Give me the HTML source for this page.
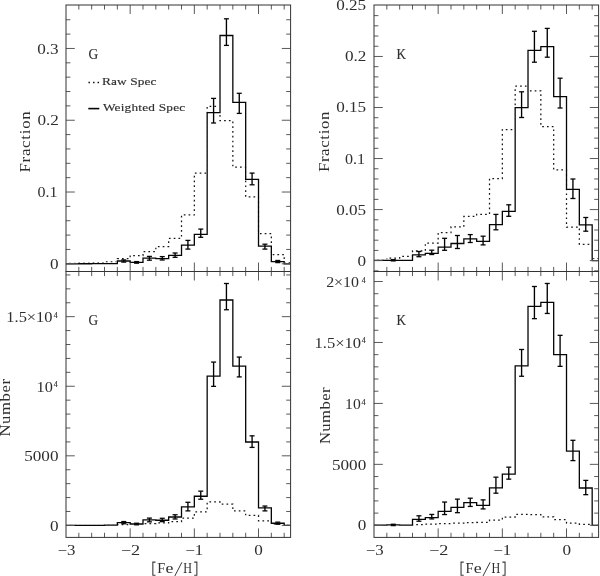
<!DOCTYPE html>
<html><head><meta charset="utf-8"><style>
html,body{margin:0;padding:0;background:#fff;}
svg{display:block;filter:grayscale(1);}
text{font-family:"Liberation Serif",serif;}
.w{stroke:#333;stroke-width:0.15px;}
</style></head><body>
<svg width="600" height="576" viewBox="0 0 600 576">
<rect width="600" height="576" fill="#fff"/>
<path d="M66,263.4H78.83V263.1H91.67V262.9H104.5V261.8H117.34V258.7H130.17V255.5H143V251.5H155.84V246.6H168.67V238.4H181.51V214.9H194.34V173.2H207.17V106.3H220.01V120.6H232.84V167.1H245.68V196.8H258.51V233.6H271.34V254.5H284.18V262.5H290.6" fill="none" stroke="#151515" stroke-width="1.25" stroke-dasharray="1.7 3.1" stroke-dashoffset="1.71"/>
<path d="M66,263.8H78.83V263.75H91.67V263.7H104.5V263.6H117.34V261H130.17V262.4H143V258.2H155.84V258.6H168.67V255.3H181.51V245.1H194.34V234.3H207.17V112.6H220.01V35.5H232.84V102.44H245.68V179.33H258.51V246.1H271.34V261.6H284.18V263.8H290.6" fill="none" stroke="#fff" stroke-width="2.0" stroke-linejoin="miter"/>
<path d="M66,263.8H78.83V263.75H91.67V263.7H104.5V263.6H117.34V261H130.17V262.4H143V258.2H155.84V258.6H168.67V255.3H181.51V245.1H194.34V234.3H207.17V112.6H220.01V35.5H232.84V102.44H245.68V179.33H258.51V246.1H271.34V261.6H284.18V263.8H290.6" fill="none" stroke="#050505" stroke-width="1.3" stroke-linejoin="miter"/>
<line x1="123.75" y1="259.9" x2="123.75" y2="262.1" stroke="#000" stroke-width="1.35"/>
<line x1="121.25" y1="259.9" x2="126.25" y2="259.9" stroke="#050505" stroke-width="1.3"/>
<line x1="121.25" y1="262.1" x2="126.25" y2="262.1" stroke="#050505" stroke-width="1.3"/>
<line x1="136.59" y1="261.6" x2="136.59" y2="263.2" stroke="#000" stroke-width="1.35"/>
<line x1="134.09" y1="261.6" x2="139.09" y2="261.6" stroke="#050505" stroke-width="1.3"/>
<line x1="134.09" y1="263.2" x2="139.09" y2="263.2" stroke="#050505" stroke-width="1.3"/>
<line x1="149.42" y1="256.4" x2="149.42" y2="260.2" stroke="#000" stroke-width="1.35"/>
<line x1="146.92" y1="256.4" x2="151.92" y2="256.4" stroke="#050505" stroke-width="1.3"/>
<line x1="146.92" y1="260.2" x2="151.92" y2="260.2" stroke="#050505" stroke-width="1.3"/>
<line x1="162.25" y1="256.6" x2="162.25" y2="260" stroke="#000" stroke-width="1.35"/>
<line x1="159.75" y1="256.6" x2="164.75" y2="256.6" stroke="#050505" stroke-width="1.3"/>
<line x1="159.75" y1="260" x2="164.75" y2="260" stroke="#050505" stroke-width="1.3"/>
<line x1="175.09" y1="253" x2="175.09" y2="257.3" stroke="#000" stroke-width="1.35"/>
<line x1="172.59" y1="253" x2="177.59" y2="253" stroke="#050505" stroke-width="1.3"/>
<line x1="172.59" y1="257.3" x2="177.59" y2="257.3" stroke="#050505" stroke-width="1.3"/>
<line x1="187.92" y1="240.4" x2="187.92" y2="249.1" stroke="#000" stroke-width="1.35"/>
<line x1="185.42" y1="240.4" x2="190.42" y2="240.4" stroke="#050505" stroke-width="1.3"/>
<line x1="185.42" y1="249.1" x2="190.42" y2="249.1" stroke="#050505" stroke-width="1.3"/>
<line x1="200.76" y1="229.1" x2="200.76" y2="237.3" stroke="#000" stroke-width="1.35"/>
<line x1="198.26" y1="229.1" x2="203.26" y2="229.1" stroke="#050505" stroke-width="1.3"/>
<line x1="198.26" y1="237.3" x2="203.26" y2="237.3" stroke="#050505" stroke-width="1.3"/>
<line x1="213.59" y1="98.4" x2="213.59" y2="123" stroke="#000" stroke-width="1.35"/>
<line x1="211.09" y1="98.4" x2="216.09" y2="98.4" stroke="#050505" stroke-width="1.3"/>
<line x1="211.09" y1="123" x2="216.09" y2="123" stroke="#050505" stroke-width="1.3"/>
<line x1="226.43" y1="18.8" x2="226.43" y2="45.4" stroke="#000" stroke-width="1.35"/>
<line x1="223.93" y1="18.8" x2="228.93" y2="18.8" stroke="#050505" stroke-width="1.3"/>
<line x1="223.93" y1="45.4" x2="228.93" y2="45.4" stroke="#050505" stroke-width="1.3"/>
<line x1="239.26" y1="93.3" x2="239.26" y2="113.4" stroke="#000" stroke-width="1.35"/>
<line x1="236.76" y1="93.3" x2="241.76" y2="93.3" stroke="#050505" stroke-width="1.3"/>
<line x1="236.76" y1="113.4" x2="241.76" y2="113.4" stroke="#050505" stroke-width="1.3"/>
<line x1="252.09" y1="173.1" x2="252.09" y2="184.8" stroke="#000" stroke-width="1.35"/>
<line x1="249.59" y1="173.1" x2="254.59" y2="173.1" stroke="#050505" stroke-width="1.3"/>
<line x1="249.59" y1="184.8" x2="254.59" y2="184.8" stroke="#050505" stroke-width="1.3"/>
<line x1="264.93" y1="244.2" x2="264.93" y2="249.1" stroke="#000" stroke-width="1.35"/>
<line x1="262.43" y1="244.2" x2="267.43" y2="244.2" stroke="#050505" stroke-width="1.3"/>
<line x1="262.43" y1="249.1" x2="267.43" y2="249.1" stroke="#050505" stroke-width="1.3"/>
<line x1="277.76" y1="260.5" x2="277.76" y2="262.6" stroke="#000" stroke-width="1.35"/>
<line x1="275.26" y1="260.5" x2="280.26" y2="260.5" stroke="#050505" stroke-width="1.3"/>
<line x1="275.26" y1="262.6" x2="280.26" y2="262.6" stroke="#050505" stroke-width="1.3"/>
<path d="M374,260H386.83V258H399.67V256.4H412.5V250.8H425.34V243H438.17V232.6H451V226.8H463.84V216.4H476.67V214.4H489.51V178.5H502.34V129.5H515.17V86.2H528.01V90.8H540.84V126.5H553.68V169.8H566.51V227.1H579.34V244.3H592.18V258.5H598.6" fill="none" stroke="#151515" stroke-width="1.25" stroke-dasharray="1.7 3.1" stroke-dashoffset="1.71"/>
<path d="M374,260.45H386.83V260.3H399.67V260.45H412.5V254.9H425.34V253.3H438.17V247.2H451V243.5H463.84V238.8H476.67V241.4H489.51V224.7H502.34V211.4H515.17V107.6H528.01V50.4H540.84V46.56H553.68V96.7H566.51V189.3H579.34V224.8H592.18V260.62H598.6" fill="none" stroke="#fff" stroke-width="2.0" stroke-linejoin="miter"/>
<path d="M374,260.45H386.83V260.3H399.67V260.45H412.5V254.9H425.34V253.3H438.17V247.2H451V243.5H463.84V238.8H476.67V241.4H489.51V224.7H502.34V211.4H515.17V107.6H528.01V50.4H540.84V46.56H553.68V96.7H566.51V189.3H579.34V224.8H592.18V260.62H598.6" fill="none" stroke="#050505" stroke-width="1.3" stroke-linejoin="miter"/>
<line x1="393.25" y1="259.6" x2="393.25" y2="260.9" stroke="#000" stroke-width="1.35"/>
<line x1="390.75" y1="259.6" x2="395.75" y2="259.6" stroke="#050505" stroke-width="1.3"/>
<line x1="390.75" y1="260.9" x2="395.75" y2="260.9" stroke="#050505" stroke-width="1.3"/>
<line x1="418.92" y1="251.5" x2="418.92" y2="256.7" stroke="#000" stroke-width="1.35"/>
<line x1="416.42" y1="251.5" x2="421.42" y2="251.5" stroke="#050505" stroke-width="1.3"/>
<line x1="416.42" y1="256.7" x2="421.42" y2="256.7" stroke="#050505" stroke-width="1.3"/>
<line x1="431.75" y1="250.2" x2="431.75" y2="254.5" stroke="#000" stroke-width="1.35"/>
<line x1="429.25" y1="250.2" x2="434.25" y2="250.2" stroke="#050505" stroke-width="1.3"/>
<line x1="429.25" y1="254.5" x2="434.25" y2="254.5" stroke="#050505" stroke-width="1.3"/>
<line x1="444.59" y1="238.3" x2="444.59" y2="250.3" stroke="#000" stroke-width="1.35"/>
<line x1="442.09" y1="238.3" x2="447.09" y2="238.3" stroke="#050505" stroke-width="1.3"/>
<line x1="442.09" y1="250.3" x2="447.09" y2="250.3" stroke="#050505" stroke-width="1.3"/>
<line x1="457.42" y1="235.5" x2="457.42" y2="248.5" stroke="#000" stroke-width="1.35"/>
<line x1="454.92" y1="235.5" x2="459.92" y2="235.5" stroke="#050505" stroke-width="1.3"/>
<line x1="454.92" y1="248.5" x2="459.92" y2="248.5" stroke="#050505" stroke-width="1.3"/>
<line x1="470.25" y1="234.6" x2="470.25" y2="242.5" stroke="#000" stroke-width="1.35"/>
<line x1="467.75" y1="234.6" x2="472.75" y2="234.6" stroke="#050505" stroke-width="1.3"/>
<line x1="467.75" y1="242.5" x2="472.75" y2="242.5" stroke="#050505" stroke-width="1.3"/>
<line x1="483.09" y1="236.2" x2="483.09" y2="244.9" stroke="#000" stroke-width="1.35"/>
<line x1="480.59" y1="236.2" x2="485.59" y2="236.2" stroke="#050505" stroke-width="1.3"/>
<line x1="480.59" y1="244.9" x2="485.59" y2="244.9" stroke="#050505" stroke-width="1.3"/>
<line x1="495.92" y1="214.4" x2="495.92" y2="229.8" stroke="#000" stroke-width="1.35"/>
<line x1="493.42" y1="214.4" x2="498.42" y2="214.4" stroke="#050505" stroke-width="1.3"/>
<line x1="493.42" y1="229.8" x2="498.42" y2="229.8" stroke="#050505" stroke-width="1.3"/>
<line x1="508.76" y1="204.8" x2="508.76" y2="216.3" stroke="#000" stroke-width="1.35"/>
<line x1="506.26" y1="204.8" x2="511.26" y2="204.8" stroke="#050505" stroke-width="1.3"/>
<line x1="506.26" y1="216.3" x2="511.26" y2="216.3" stroke="#050505" stroke-width="1.3"/>
<line x1="521.59" y1="91.8" x2="521.59" y2="117.5" stroke="#000" stroke-width="1.35"/>
<line x1="519.09" y1="91.8" x2="524.09" y2="91.8" stroke="#050505" stroke-width="1.3"/>
<line x1="519.09" y1="117.5" x2="524.09" y2="117.5" stroke="#050505" stroke-width="1.3"/>
<line x1="534.42" y1="31.3" x2="534.42" y2="62.2" stroke="#000" stroke-width="1.35"/>
<line x1="531.92" y1="31.3" x2="536.92" y2="31.3" stroke="#050505" stroke-width="1.3"/>
<line x1="531.92" y1="62.2" x2="536.92" y2="62.2" stroke="#050505" stroke-width="1.3"/>
<line x1="547.26" y1="28.4" x2="547.26" y2="57.2" stroke="#000" stroke-width="1.35"/>
<line x1="544.76" y1="28.4" x2="549.76" y2="28.4" stroke="#050505" stroke-width="1.3"/>
<line x1="544.76" y1="57.2" x2="549.76" y2="57.2" stroke="#050505" stroke-width="1.3"/>
<line x1="560.09" y1="78.2" x2="560.09" y2="108" stroke="#000" stroke-width="1.35"/>
<line x1="557.59" y1="78.2" x2="562.59" y2="78.2" stroke="#050505" stroke-width="1.3"/>
<line x1="557.59" y1="108" x2="562.59" y2="108" stroke="#050505" stroke-width="1.3"/>
<line x1="572.93" y1="179" x2="572.93" y2="198.5" stroke="#000" stroke-width="1.35"/>
<line x1="570.43" y1="179" x2="575.43" y2="179" stroke="#050505" stroke-width="1.3"/>
<line x1="570.43" y1="198.5" x2="575.43" y2="198.5" stroke="#050505" stroke-width="1.3"/>
<line x1="585.76" y1="217.5" x2="585.76" y2="231.2" stroke="#000" stroke-width="1.35"/>
<line x1="583.26" y1="217.5" x2="588.26" y2="217.5" stroke="#050505" stroke-width="1.3"/>
<line x1="583.26" y1="231.2" x2="588.26" y2="231.2" stroke="#050505" stroke-width="1.3"/>
<path d="M66,525.34H78.83V525.3H91.67V525.27H104.5V525.1H117.34V524.64H130.17V524.16H143V523.57H155.84V522.84H168.67V521.62H181.51V518.11H194.34V511.9H207.17V501.93H220.01V504.06H232.84V510.99H245.68V515.42H258.51V520.9H271.34V524.01H284.18V525.21H290.6" fill="none" stroke="#151515" stroke-width="1.25" stroke-dasharray="1.7 3.1" stroke-dashoffset="1.17"/>
<path d="M66,525.4H78.83V525.35H91.67V525.3H104.5V525.2H117.34V522.64H130.17V524.02H143V519.87H155.84V520.27H168.67V517.01H181.51V506.94H194.34V496.27H207.17V376.11H220.01V299.98H232.84V366.07H245.68V441.99H258.51V507.92H271.34V523.23H284.18V525.4H290.6" fill="none" stroke="#fff" stroke-width="2.0" stroke-linejoin="miter"/>
<path d="M66,525.4H78.83V525.35H91.67V525.3H104.5V525.2H117.34V522.64H130.17V524.02H143V519.87H155.84V520.27H168.67V517.01H181.51V506.94H194.34V496.27H207.17V376.11H220.01V299.98H232.84V366.07H245.68V441.99H258.51V507.92H271.34V523.23H284.18V525.4H290.6" fill="none" stroke="#050505" stroke-width="1.3" stroke-linejoin="miter"/>
<line x1="123.75" y1="521.55" x2="123.75" y2="523.72" stroke="#000" stroke-width="1.35"/>
<line x1="121.25" y1="521.55" x2="126.25" y2="521.55" stroke="#050505" stroke-width="1.3"/>
<line x1="121.25" y1="523.72" x2="126.25" y2="523.72" stroke="#050505" stroke-width="1.3"/>
<line x1="136.59" y1="523.23" x2="136.59" y2="524.81" stroke="#000" stroke-width="1.35"/>
<line x1="134.09" y1="523.23" x2="139.09" y2="523.23" stroke="#050505" stroke-width="1.3"/>
<line x1="134.09" y1="524.81" x2="139.09" y2="524.81" stroke="#050505" stroke-width="1.3"/>
<line x1="149.42" y1="518.09" x2="149.42" y2="521.85" stroke="#000" stroke-width="1.35"/>
<line x1="146.92" y1="518.09" x2="151.92" y2="518.09" stroke="#050505" stroke-width="1.3"/>
<line x1="146.92" y1="521.85" x2="151.92" y2="521.85" stroke="#050505" stroke-width="1.3"/>
<line x1="162.25" y1="518.29" x2="162.25" y2="521.65" stroke="#000" stroke-width="1.35"/>
<line x1="159.75" y1="518.29" x2="164.75" y2="518.29" stroke="#050505" stroke-width="1.3"/>
<line x1="159.75" y1="521.65" x2="164.75" y2="521.65" stroke="#050505" stroke-width="1.3"/>
<line x1="175.09" y1="514.74" x2="175.09" y2="518.98" stroke="#000" stroke-width="1.35"/>
<line x1="172.59" y1="514.74" x2="177.59" y2="514.74" stroke="#050505" stroke-width="1.3"/>
<line x1="172.59" y1="518.98" x2="177.59" y2="518.98" stroke="#050505" stroke-width="1.3"/>
<line x1="187.92" y1="502.29" x2="187.92" y2="510.89" stroke="#000" stroke-width="1.35"/>
<line x1="185.42" y1="502.29" x2="190.42" y2="502.29" stroke="#050505" stroke-width="1.3"/>
<line x1="185.42" y1="510.89" x2="190.42" y2="510.89" stroke="#050505" stroke-width="1.3"/>
<line x1="200.76" y1="491.14" x2="200.76" y2="499.23" stroke="#000" stroke-width="1.35"/>
<line x1="198.26" y1="491.14" x2="203.26" y2="491.14" stroke="#050505" stroke-width="1.3"/>
<line x1="198.26" y1="499.23" x2="203.26" y2="499.23" stroke="#050505" stroke-width="1.3"/>
<line x1="213.59" y1="362.08" x2="213.59" y2="386.37" stroke="#000" stroke-width="1.35"/>
<line x1="211.09" y1="362.08" x2="216.09" y2="362.08" stroke="#050505" stroke-width="1.3"/>
<line x1="211.09" y1="386.37" x2="216.09" y2="386.37" stroke="#050505" stroke-width="1.3"/>
<line x1="226.43" y1="283.49" x2="226.43" y2="309.75" stroke="#000" stroke-width="1.35"/>
<line x1="223.93" y1="283.49" x2="228.93" y2="283.49" stroke="#050505" stroke-width="1.3"/>
<line x1="223.93" y1="309.75" x2="228.93" y2="309.75" stroke="#050505" stroke-width="1.3"/>
<line x1="239.26" y1="357.05" x2="239.26" y2="376.9" stroke="#000" stroke-width="1.35"/>
<line x1="236.76" y1="357.05" x2="241.76" y2="357.05" stroke="#050505" stroke-width="1.3"/>
<line x1="236.76" y1="376.9" x2="241.76" y2="376.9" stroke="#050505" stroke-width="1.3"/>
<line x1="252.09" y1="435.84" x2="252.09" y2="447.4" stroke="#000" stroke-width="1.35"/>
<line x1="249.59" y1="435.84" x2="254.59" y2="435.84" stroke="#050505" stroke-width="1.3"/>
<line x1="249.59" y1="447.4" x2="254.59" y2="447.4" stroke="#050505" stroke-width="1.3"/>
<line x1="264.93" y1="506.05" x2="264.93" y2="510.89" stroke="#000" stroke-width="1.35"/>
<line x1="262.43" y1="506.05" x2="267.43" y2="506.05" stroke="#050505" stroke-width="1.3"/>
<line x1="262.43" y1="510.89" x2="267.43" y2="510.89" stroke="#050505" stroke-width="1.3"/>
<line x1="277.76" y1="522.14" x2="277.76" y2="524.22" stroke="#000" stroke-width="1.35"/>
<line x1="275.26" y1="522.14" x2="280.26" y2="522.14" stroke="#050505" stroke-width="1.3"/>
<line x1="275.26" y1="524.22" x2="280.26" y2="524.22" stroke="#050505" stroke-width="1.3"/>
<path d="M374,525.26H386.83V525.14H399.67V525.03H412.5V524.68H425.34V524.19H438.17V523.54H451V523.18H463.84V522.52H476.67V522.4H489.51V520.14H502.34V517.07H515.17V514.35H528.01V514.64H540.84V516.88H553.68V519.6H566.51V523.19H579.34V524.28H592.18V525.17H598.6" fill="none" stroke="#151515" stroke-width="1.25" stroke-dasharray="1.7 3.1" stroke-dashoffset="0.36"/>
<path d="M374,525.12H386.83V524.97H399.67V525.12H412.5V519.34H425.34V517.68H438.17V511.32H451V507.47H463.84V502.58H476.67V505.28H489.51V487.89H502.34V474.04H515.17V365.94H528.01V306.38H540.84V302.38H553.68V354.59H566.51V451.03H579.34V488H592.18V525.3H598.6" fill="none" stroke="#fff" stroke-width="2.0" stroke-linejoin="miter"/>
<path d="M374,525.12H386.83V524.97H399.67V525.12H412.5V519.34H425.34V517.68H438.17V511.32H451V507.47H463.84V502.58H476.67V505.28H489.51V487.89H502.34V474.04H515.17V365.94H528.01V306.38H540.84V302.38H553.68V354.59H566.51V451.03H579.34V488H592.18V525.3H598.6" fill="none" stroke="#050505" stroke-width="1.3" stroke-linejoin="miter"/>
<line x1="393.25" y1="524.24" x2="393.25" y2="525.59" stroke="#000" stroke-width="1.35"/>
<line x1="390.75" y1="524.24" x2="395.75" y2="524.24" stroke="#050505" stroke-width="1.3"/>
<line x1="390.75" y1="525.59" x2="395.75" y2="525.59" stroke="#050505" stroke-width="1.3"/>
<line x1="418.92" y1="515.8" x2="418.92" y2="521.22" stroke="#000" stroke-width="1.35"/>
<line x1="416.42" y1="515.8" x2="421.42" y2="515.8" stroke="#050505" stroke-width="1.3"/>
<line x1="416.42" y1="521.22" x2="421.42" y2="521.22" stroke="#050505" stroke-width="1.3"/>
<line x1="431.75" y1="514.45" x2="431.75" y2="518.93" stroke="#000" stroke-width="1.35"/>
<line x1="429.25" y1="514.45" x2="434.25" y2="514.45" stroke="#050505" stroke-width="1.3"/>
<line x1="429.25" y1="518.93" x2="434.25" y2="518.93" stroke="#050505" stroke-width="1.3"/>
<line x1="444.59" y1="502.06" x2="444.59" y2="514.55" stroke="#000" stroke-width="1.35"/>
<line x1="442.09" y1="502.06" x2="447.09" y2="502.06" stroke="#050505" stroke-width="1.3"/>
<line x1="442.09" y1="514.55" x2="447.09" y2="514.55" stroke="#050505" stroke-width="1.3"/>
<line x1="457.42" y1="499.14" x2="457.42" y2="512.68" stroke="#000" stroke-width="1.35"/>
<line x1="454.92" y1="499.14" x2="459.92" y2="499.14" stroke="#050505" stroke-width="1.3"/>
<line x1="454.92" y1="512.68" x2="459.92" y2="512.68" stroke="#050505" stroke-width="1.3"/>
<line x1="470.25" y1="498.2" x2="470.25" y2="506.43" stroke="#000" stroke-width="1.35"/>
<line x1="467.75" y1="498.2" x2="472.75" y2="498.2" stroke="#050505" stroke-width="1.3"/>
<line x1="467.75" y1="506.43" x2="472.75" y2="506.43" stroke="#050505" stroke-width="1.3"/>
<line x1="483.09" y1="499.87" x2="483.09" y2="508.93" stroke="#000" stroke-width="1.35"/>
<line x1="480.59" y1="499.87" x2="485.59" y2="499.87" stroke="#050505" stroke-width="1.3"/>
<line x1="480.59" y1="508.93" x2="485.59" y2="508.93" stroke="#050505" stroke-width="1.3"/>
<line x1="495.92" y1="477.17" x2="495.92" y2="493.2" stroke="#000" stroke-width="1.35"/>
<line x1="493.42" y1="477.17" x2="498.42" y2="477.17" stroke="#050505" stroke-width="1.3"/>
<line x1="493.42" y1="493.2" x2="498.42" y2="493.2" stroke="#050505" stroke-width="1.3"/>
<line x1="508.76" y1="467.17" x2="508.76" y2="479.15" stroke="#000" stroke-width="1.35"/>
<line x1="506.26" y1="467.17" x2="511.26" y2="467.17" stroke="#050505" stroke-width="1.3"/>
<line x1="506.26" y1="479.15" x2="511.26" y2="479.15" stroke="#050505" stroke-width="1.3"/>
<line x1="521.59" y1="349.49" x2="521.59" y2="376.25" stroke="#000" stroke-width="1.35"/>
<line x1="519.09" y1="349.49" x2="524.09" y2="349.49" stroke="#050505" stroke-width="1.3"/>
<line x1="519.09" y1="376.25" x2="524.09" y2="376.25" stroke="#050505" stroke-width="1.3"/>
<line x1="534.42" y1="286.49" x2="534.42" y2="318.67" stroke="#000" stroke-width="1.35"/>
<line x1="531.92" y1="286.49" x2="536.92" y2="286.49" stroke="#050505" stroke-width="1.3"/>
<line x1="531.92" y1="318.67" x2="536.92" y2="318.67" stroke="#050505" stroke-width="1.3"/>
<line x1="547.26" y1="283.47" x2="547.26" y2="313.46" stroke="#000" stroke-width="1.35"/>
<line x1="544.76" y1="283.47" x2="549.76" y2="283.47" stroke="#050505" stroke-width="1.3"/>
<line x1="544.76" y1="313.46" x2="549.76" y2="313.46" stroke="#050505" stroke-width="1.3"/>
<line x1="560.09" y1="335.33" x2="560.09" y2="366.36" stroke="#000" stroke-width="1.35"/>
<line x1="557.59" y1="335.33" x2="562.59" y2="335.33" stroke="#050505" stroke-width="1.3"/>
<line x1="557.59" y1="366.36" x2="562.59" y2="366.36" stroke="#050505" stroke-width="1.3"/>
<line x1="572.93" y1="440.3" x2="572.93" y2="460.61" stroke="#000" stroke-width="1.35"/>
<line x1="570.43" y1="440.3" x2="575.43" y2="440.3" stroke="#050505" stroke-width="1.3"/>
<line x1="570.43" y1="460.61" x2="575.43" y2="460.61" stroke="#050505" stroke-width="1.3"/>
<line x1="585.76" y1="480.39" x2="585.76" y2="494.66" stroke="#000" stroke-width="1.35"/>
<line x1="583.26" y1="480.39" x2="588.26" y2="480.39" stroke="#050505" stroke-width="1.3"/>
<line x1="583.26" y1="494.66" x2="588.26" y2="494.66" stroke="#050505" stroke-width="1.3"/>
<line x1="78.83" y1="5" x2="78.83" y2="9.6" stroke="#5a5a5a" stroke-width="1.0"/>
<line x1="78.83" y1="271.5" x2="78.83" y2="266.9" stroke="#5a5a5a" stroke-width="1.0"/>
<line x1="91.67" y1="5" x2="91.67" y2="9.6" stroke="#5a5a5a" stroke-width="1.0"/>
<line x1="91.67" y1="271.5" x2="91.67" y2="266.9" stroke="#5a5a5a" stroke-width="1.0"/>
<line x1="104.5" y1="5" x2="104.5" y2="9.6" stroke="#5a5a5a" stroke-width="1.0"/>
<line x1="104.5" y1="271.5" x2="104.5" y2="266.9" stroke="#5a5a5a" stroke-width="1.0"/>
<line x1="117.34" y1="5" x2="117.34" y2="9.6" stroke="#5a5a5a" stroke-width="1.0"/>
<line x1="117.34" y1="271.5" x2="117.34" y2="266.9" stroke="#5a5a5a" stroke-width="1.0"/>
<line x1="130.17" y1="5" x2="130.17" y2="14" stroke="#5a5a5a" stroke-width="1.0"/>
<line x1="130.17" y1="271.5" x2="130.17" y2="262.5" stroke="#5a5a5a" stroke-width="1.0"/>
<line x1="143" y1="5" x2="143" y2="9.6" stroke="#5a5a5a" stroke-width="1.0"/>
<line x1="143" y1="271.5" x2="143" y2="266.9" stroke="#5a5a5a" stroke-width="1.0"/>
<line x1="155.84" y1="5" x2="155.84" y2="9.6" stroke="#5a5a5a" stroke-width="1.0"/>
<line x1="155.84" y1="271.5" x2="155.84" y2="266.9" stroke="#5a5a5a" stroke-width="1.0"/>
<line x1="168.67" y1="5" x2="168.67" y2="9.6" stroke="#5a5a5a" stroke-width="1.0"/>
<line x1="168.67" y1="271.5" x2="168.67" y2="266.9" stroke="#5a5a5a" stroke-width="1.0"/>
<line x1="181.51" y1="5" x2="181.51" y2="9.6" stroke="#5a5a5a" stroke-width="1.0"/>
<line x1="181.51" y1="271.5" x2="181.51" y2="266.9" stroke="#5a5a5a" stroke-width="1.0"/>
<line x1="194.34" y1="5" x2="194.34" y2="14" stroke="#5a5a5a" stroke-width="1.0"/>
<line x1="194.34" y1="271.5" x2="194.34" y2="262.5" stroke="#5a5a5a" stroke-width="1.0"/>
<line x1="207.17" y1="5" x2="207.17" y2="9.6" stroke="#5a5a5a" stroke-width="1.0"/>
<line x1="207.17" y1="271.5" x2="207.17" y2="266.9" stroke="#5a5a5a" stroke-width="1.0"/>
<line x1="220.01" y1="5" x2="220.01" y2="9.6" stroke="#5a5a5a" stroke-width="1.0"/>
<line x1="220.01" y1="271.5" x2="220.01" y2="266.9" stroke="#5a5a5a" stroke-width="1.0"/>
<line x1="232.84" y1="5" x2="232.84" y2="9.6" stroke="#5a5a5a" stroke-width="1.0"/>
<line x1="232.84" y1="271.5" x2="232.84" y2="266.9" stroke="#5a5a5a" stroke-width="1.0"/>
<line x1="245.68" y1="5" x2="245.68" y2="9.6" stroke="#5a5a5a" stroke-width="1.0"/>
<line x1="245.68" y1="271.5" x2="245.68" y2="266.9" stroke="#5a5a5a" stroke-width="1.0"/>
<line x1="258.51" y1="5" x2="258.51" y2="14" stroke="#5a5a5a" stroke-width="1.0"/>
<line x1="258.51" y1="271.5" x2="258.51" y2="262.5" stroke="#5a5a5a" stroke-width="1.0"/>
<line x1="271.34" y1="5" x2="271.34" y2="9.6" stroke="#5a5a5a" stroke-width="1.0"/>
<line x1="271.34" y1="271.5" x2="271.34" y2="266.9" stroke="#5a5a5a" stroke-width="1.0"/>
<line x1="284.18" y1="5" x2="284.18" y2="9.6" stroke="#5a5a5a" stroke-width="1.0"/>
<line x1="284.18" y1="271.5" x2="284.18" y2="266.9" stroke="#5a5a5a" stroke-width="1.0"/>
<line x1="66" y1="249.44" x2="70.4" y2="249.44" stroke="#5a5a5a" stroke-width="1.0"/>
<line x1="290.6" y1="249.44" x2="286.2" y2="249.44" stroke="#5a5a5a" stroke-width="1.0"/>
<line x1="66" y1="235.09" x2="70.4" y2="235.09" stroke="#5a5a5a" stroke-width="1.0"/>
<line x1="290.6" y1="235.09" x2="286.2" y2="235.09" stroke="#5a5a5a" stroke-width="1.0"/>
<line x1="66" y1="220.73" x2="70.4" y2="220.73" stroke="#5a5a5a" stroke-width="1.0"/>
<line x1="290.6" y1="220.73" x2="286.2" y2="220.73" stroke="#5a5a5a" stroke-width="1.0"/>
<line x1="66" y1="206.38" x2="70.4" y2="206.38" stroke="#5a5a5a" stroke-width="1.0"/>
<line x1="290.6" y1="206.38" x2="286.2" y2="206.38" stroke="#5a5a5a" stroke-width="1.0"/>
<line x1="66" y1="177.66" x2="70.4" y2="177.66" stroke="#5a5a5a" stroke-width="1.0"/>
<line x1="290.6" y1="177.66" x2="286.2" y2="177.66" stroke="#5a5a5a" stroke-width="1.0"/>
<line x1="66" y1="163.31" x2="70.4" y2="163.31" stroke="#5a5a5a" stroke-width="1.0"/>
<line x1="290.6" y1="163.31" x2="286.2" y2="163.31" stroke="#5a5a5a" stroke-width="1.0"/>
<line x1="66" y1="148.95" x2="70.4" y2="148.95" stroke="#5a5a5a" stroke-width="1.0"/>
<line x1="290.6" y1="148.95" x2="286.2" y2="148.95" stroke="#5a5a5a" stroke-width="1.0"/>
<line x1="66" y1="134.6" x2="70.4" y2="134.6" stroke="#5a5a5a" stroke-width="1.0"/>
<line x1="290.6" y1="134.6" x2="286.2" y2="134.6" stroke="#5a5a5a" stroke-width="1.0"/>
<line x1="66" y1="105.88" x2="70.4" y2="105.88" stroke="#5a5a5a" stroke-width="1.0"/>
<line x1="290.6" y1="105.88" x2="286.2" y2="105.88" stroke="#5a5a5a" stroke-width="1.0"/>
<line x1="66" y1="91.53" x2="70.4" y2="91.53" stroke="#5a5a5a" stroke-width="1.0"/>
<line x1="290.6" y1="91.53" x2="286.2" y2="91.53" stroke="#5a5a5a" stroke-width="1.0"/>
<line x1="66" y1="77.17" x2="70.4" y2="77.17" stroke="#5a5a5a" stroke-width="1.0"/>
<line x1="290.6" y1="77.17" x2="286.2" y2="77.17" stroke="#5a5a5a" stroke-width="1.0"/>
<line x1="66" y1="62.82" x2="70.4" y2="62.82" stroke="#5a5a5a" stroke-width="1.0"/>
<line x1="290.6" y1="62.82" x2="286.2" y2="62.82" stroke="#5a5a5a" stroke-width="1.0"/>
<line x1="66" y1="34.1" x2="70.4" y2="34.1" stroke="#5a5a5a" stroke-width="1.0"/>
<line x1="290.6" y1="34.1" x2="286.2" y2="34.1" stroke="#5a5a5a" stroke-width="1.0"/>
<line x1="66" y1="19.75" x2="70.4" y2="19.75" stroke="#5a5a5a" stroke-width="1.0"/>
<line x1="290.6" y1="19.75" x2="286.2" y2="19.75" stroke="#5a5a5a" stroke-width="1.0"/>
<line x1="66" y1="263.8" x2="74.8" y2="263.8" stroke="#5a5a5a" stroke-width="1.0"/>
<line x1="290.6" y1="263.8" x2="281.8" y2="263.8" stroke="#5a5a5a" stroke-width="1.0"/>
<line x1="66" y1="192.02" x2="74.8" y2="192.02" stroke="#5a5a5a" stroke-width="1.0"/>
<line x1="290.6" y1="192.02" x2="281.8" y2="192.02" stroke="#5a5a5a" stroke-width="1.0"/>
<line x1="66" y1="120.24" x2="74.8" y2="120.24" stroke="#5a5a5a" stroke-width="1.0"/>
<line x1="290.6" y1="120.24" x2="281.8" y2="120.24" stroke="#5a5a5a" stroke-width="1.0"/>
<line x1="66" y1="48.46" x2="74.8" y2="48.46" stroke="#5a5a5a" stroke-width="1.0"/>
<line x1="290.6" y1="48.46" x2="281.8" y2="48.46" stroke="#5a5a5a" stroke-width="1.0"/>
<line x1="78.83" y1="271.5" x2="78.83" y2="276.1" stroke="#5a5a5a" stroke-width="1.0"/>
<line x1="78.83" y1="537.4" x2="78.83" y2="532.8" stroke="#5a5a5a" stroke-width="1.0"/>
<line x1="91.67" y1="271.5" x2="91.67" y2="276.1" stroke="#5a5a5a" stroke-width="1.0"/>
<line x1="91.67" y1="537.4" x2="91.67" y2="532.8" stroke="#5a5a5a" stroke-width="1.0"/>
<line x1="104.5" y1="271.5" x2="104.5" y2="276.1" stroke="#5a5a5a" stroke-width="1.0"/>
<line x1="104.5" y1="537.4" x2="104.5" y2="532.8" stroke="#5a5a5a" stroke-width="1.0"/>
<line x1="117.34" y1="271.5" x2="117.34" y2="276.1" stroke="#5a5a5a" stroke-width="1.0"/>
<line x1="117.34" y1="537.4" x2="117.34" y2="532.8" stroke="#5a5a5a" stroke-width="1.0"/>
<line x1="130.17" y1="271.5" x2="130.17" y2="280.5" stroke="#5a5a5a" stroke-width="1.0"/>
<line x1="130.17" y1="537.4" x2="130.17" y2="528.4" stroke="#5a5a5a" stroke-width="1.0"/>
<line x1="143" y1="271.5" x2="143" y2="276.1" stroke="#5a5a5a" stroke-width="1.0"/>
<line x1="143" y1="537.4" x2="143" y2="532.8" stroke="#5a5a5a" stroke-width="1.0"/>
<line x1="155.84" y1="271.5" x2="155.84" y2="276.1" stroke="#5a5a5a" stroke-width="1.0"/>
<line x1="155.84" y1="537.4" x2="155.84" y2="532.8" stroke="#5a5a5a" stroke-width="1.0"/>
<line x1="168.67" y1="271.5" x2="168.67" y2="276.1" stroke="#5a5a5a" stroke-width="1.0"/>
<line x1="168.67" y1="537.4" x2="168.67" y2="532.8" stroke="#5a5a5a" stroke-width="1.0"/>
<line x1="181.51" y1="271.5" x2="181.51" y2="276.1" stroke="#5a5a5a" stroke-width="1.0"/>
<line x1="181.51" y1="537.4" x2="181.51" y2="532.8" stroke="#5a5a5a" stroke-width="1.0"/>
<line x1="194.34" y1="271.5" x2="194.34" y2="280.5" stroke="#5a5a5a" stroke-width="1.0"/>
<line x1="194.34" y1="537.4" x2="194.34" y2="528.4" stroke="#5a5a5a" stroke-width="1.0"/>
<line x1="207.17" y1="271.5" x2="207.17" y2="276.1" stroke="#5a5a5a" stroke-width="1.0"/>
<line x1="207.17" y1="537.4" x2="207.17" y2="532.8" stroke="#5a5a5a" stroke-width="1.0"/>
<line x1="220.01" y1="271.5" x2="220.01" y2="276.1" stroke="#5a5a5a" stroke-width="1.0"/>
<line x1="220.01" y1="537.4" x2="220.01" y2="532.8" stroke="#5a5a5a" stroke-width="1.0"/>
<line x1="232.84" y1="271.5" x2="232.84" y2="276.1" stroke="#5a5a5a" stroke-width="1.0"/>
<line x1="232.84" y1="537.4" x2="232.84" y2="532.8" stroke="#5a5a5a" stroke-width="1.0"/>
<line x1="245.68" y1="271.5" x2="245.68" y2="276.1" stroke="#5a5a5a" stroke-width="1.0"/>
<line x1="245.68" y1="537.4" x2="245.68" y2="532.8" stroke="#5a5a5a" stroke-width="1.0"/>
<line x1="258.51" y1="271.5" x2="258.51" y2="280.5" stroke="#5a5a5a" stroke-width="1.0"/>
<line x1="258.51" y1="537.4" x2="258.51" y2="528.4" stroke="#5a5a5a" stroke-width="1.0"/>
<line x1="271.34" y1="271.5" x2="271.34" y2="276.1" stroke="#5a5a5a" stroke-width="1.0"/>
<line x1="271.34" y1="537.4" x2="271.34" y2="532.8" stroke="#5a5a5a" stroke-width="1.0"/>
<line x1="284.18" y1="271.5" x2="284.18" y2="276.1" stroke="#5a5a5a" stroke-width="1.0"/>
<line x1="284.18" y1="537.4" x2="284.18" y2="532.8" stroke="#5a5a5a" stroke-width="1.0"/>
<line x1="66" y1="511.48" x2="70.4" y2="511.48" stroke="#5a5a5a" stroke-width="1.0"/>
<line x1="290.6" y1="511.48" x2="286.2" y2="511.48" stroke="#5a5a5a" stroke-width="1.0"/>
<line x1="66" y1="497.57" x2="70.4" y2="497.57" stroke="#5a5a5a" stroke-width="1.0"/>
<line x1="290.6" y1="497.57" x2="286.2" y2="497.57" stroke="#5a5a5a" stroke-width="1.0"/>
<line x1="66" y1="483.65" x2="70.4" y2="483.65" stroke="#5a5a5a" stroke-width="1.0"/>
<line x1="290.6" y1="483.65" x2="286.2" y2="483.65" stroke="#5a5a5a" stroke-width="1.0"/>
<line x1="66" y1="469.74" x2="70.4" y2="469.74" stroke="#5a5a5a" stroke-width="1.0"/>
<line x1="290.6" y1="469.74" x2="286.2" y2="469.74" stroke="#5a5a5a" stroke-width="1.0"/>
<line x1="66" y1="441.91" x2="70.4" y2="441.91" stroke="#5a5a5a" stroke-width="1.0"/>
<line x1="290.6" y1="441.91" x2="286.2" y2="441.91" stroke="#5a5a5a" stroke-width="1.0"/>
<line x1="66" y1="428" x2="70.4" y2="428" stroke="#5a5a5a" stroke-width="1.0"/>
<line x1="290.6" y1="428" x2="286.2" y2="428" stroke="#5a5a5a" stroke-width="1.0"/>
<line x1="66" y1="414.08" x2="70.4" y2="414.08" stroke="#5a5a5a" stroke-width="1.0"/>
<line x1="290.6" y1="414.08" x2="286.2" y2="414.08" stroke="#5a5a5a" stroke-width="1.0"/>
<line x1="66" y1="400.16" x2="70.4" y2="400.16" stroke="#5a5a5a" stroke-width="1.0"/>
<line x1="290.6" y1="400.16" x2="286.2" y2="400.16" stroke="#5a5a5a" stroke-width="1.0"/>
<line x1="66" y1="372.33" x2="70.4" y2="372.33" stroke="#5a5a5a" stroke-width="1.0"/>
<line x1="290.6" y1="372.33" x2="286.2" y2="372.33" stroke="#5a5a5a" stroke-width="1.0"/>
<line x1="66" y1="358.42" x2="70.4" y2="358.42" stroke="#5a5a5a" stroke-width="1.0"/>
<line x1="290.6" y1="358.42" x2="286.2" y2="358.42" stroke="#5a5a5a" stroke-width="1.0"/>
<line x1="66" y1="344.5" x2="70.4" y2="344.5" stroke="#5a5a5a" stroke-width="1.0"/>
<line x1="290.6" y1="344.5" x2="286.2" y2="344.5" stroke="#5a5a5a" stroke-width="1.0"/>
<line x1="66" y1="330.59" x2="70.4" y2="330.59" stroke="#5a5a5a" stroke-width="1.0"/>
<line x1="290.6" y1="330.59" x2="286.2" y2="330.59" stroke="#5a5a5a" stroke-width="1.0"/>
<line x1="66" y1="302.76" x2="70.4" y2="302.76" stroke="#5a5a5a" stroke-width="1.0"/>
<line x1="290.6" y1="302.76" x2="286.2" y2="302.76" stroke="#5a5a5a" stroke-width="1.0"/>
<line x1="66" y1="288.85" x2="70.4" y2="288.85" stroke="#5a5a5a" stroke-width="1.0"/>
<line x1="290.6" y1="288.85" x2="286.2" y2="288.85" stroke="#5a5a5a" stroke-width="1.0"/>
<line x1="66" y1="274.93" x2="70.4" y2="274.93" stroke="#5a5a5a" stroke-width="1.0"/>
<line x1="290.6" y1="274.93" x2="286.2" y2="274.93" stroke="#5a5a5a" stroke-width="1.0"/>
<line x1="66" y1="525.4" x2="74.8" y2="525.4" stroke="#5a5a5a" stroke-width="1.0"/>
<line x1="290.6" y1="525.4" x2="281.8" y2="525.4" stroke="#5a5a5a" stroke-width="1.0"/>
<line x1="66" y1="455.82" x2="74.8" y2="455.82" stroke="#5a5a5a" stroke-width="1.0"/>
<line x1="290.6" y1="455.82" x2="281.8" y2="455.82" stroke="#5a5a5a" stroke-width="1.0"/>
<line x1="66" y1="386.25" x2="74.8" y2="386.25" stroke="#5a5a5a" stroke-width="1.0"/>
<line x1="290.6" y1="386.25" x2="281.8" y2="386.25" stroke="#5a5a5a" stroke-width="1.0"/>
<line x1="66" y1="316.67" x2="74.8" y2="316.67" stroke="#5a5a5a" stroke-width="1.0"/>
<line x1="290.6" y1="316.67" x2="281.8" y2="316.67" stroke="#5a5a5a" stroke-width="1.0"/>
<line x1="386.83" y1="5" x2="386.83" y2="9.6" stroke="#5a5a5a" stroke-width="1.0"/>
<line x1="386.83" y1="271.5" x2="386.83" y2="266.9" stroke="#5a5a5a" stroke-width="1.0"/>
<line x1="399.67" y1="5" x2="399.67" y2="9.6" stroke="#5a5a5a" stroke-width="1.0"/>
<line x1="399.67" y1="271.5" x2="399.67" y2="266.9" stroke="#5a5a5a" stroke-width="1.0"/>
<line x1="412.5" y1="5" x2="412.5" y2="9.6" stroke="#5a5a5a" stroke-width="1.0"/>
<line x1="412.5" y1="271.5" x2="412.5" y2="266.9" stroke="#5a5a5a" stroke-width="1.0"/>
<line x1="425.34" y1="5" x2="425.34" y2="9.6" stroke="#5a5a5a" stroke-width="1.0"/>
<line x1="425.34" y1="271.5" x2="425.34" y2="266.9" stroke="#5a5a5a" stroke-width="1.0"/>
<line x1="438.17" y1="5" x2="438.17" y2="14" stroke="#5a5a5a" stroke-width="1.0"/>
<line x1="438.17" y1="271.5" x2="438.17" y2="262.5" stroke="#5a5a5a" stroke-width="1.0"/>
<line x1="451" y1="5" x2="451" y2="9.6" stroke="#5a5a5a" stroke-width="1.0"/>
<line x1="451" y1="271.5" x2="451" y2="266.9" stroke="#5a5a5a" stroke-width="1.0"/>
<line x1="463.84" y1="5" x2="463.84" y2="9.6" stroke="#5a5a5a" stroke-width="1.0"/>
<line x1="463.84" y1="271.5" x2="463.84" y2="266.9" stroke="#5a5a5a" stroke-width="1.0"/>
<line x1="476.67" y1="5" x2="476.67" y2="9.6" stroke="#5a5a5a" stroke-width="1.0"/>
<line x1="476.67" y1="271.5" x2="476.67" y2="266.9" stroke="#5a5a5a" stroke-width="1.0"/>
<line x1="489.51" y1="5" x2="489.51" y2="9.6" stroke="#5a5a5a" stroke-width="1.0"/>
<line x1="489.51" y1="271.5" x2="489.51" y2="266.9" stroke="#5a5a5a" stroke-width="1.0"/>
<line x1="502.34" y1="5" x2="502.34" y2="14" stroke="#5a5a5a" stroke-width="1.0"/>
<line x1="502.34" y1="271.5" x2="502.34" y2="262.5" stroke="#5a5a5a" stroke-width="1.0"/>
<line x1="515.17" y1="5" x2="515.17" y2="9.6" stroke="#5a5a5a" stroke-width="1.0"/>
<line x1="515.17" y1="271.5" x2="515.17" y2="266.9" stroke="#5a5a5a" stroke-width="1.0"/>
<line x1="528.01" y1="5" x2="528.01" y2="9.6" stroke="#5a5a5a" stroke-width="1.0"/>
<line x1="528.01" y1="271.5" x2="528.01" y2="266.9" stroke="#5a5a5a" stroke-width="1.0"/>
<line x1="540.84" y1="5" x2="540.84" y2="9.6" stroke="#5a5a5a" stroke-width="1.0"/>
<line x1="540.84" y1="271.5" x2="540.84" y2="266.9" stroke="#5a5a5a" stroke-width="1.0"/>
<line x1="553.68" y1="5" x2="553.68" y2="9.6" stroke="#5a5a5a" stroke-width="1.0"/>
<line x1="553.68" y1="271.5" x2="553.68" y2="266.9" stroke="#5a5a5a" stroke-width="1.0"/>
<line x1="566.51" y1="5" x2="566.51" y2="14" stroke="#5a5a5a" stroke-width="1.0"/>
<line x1="566.51" y1="271.5" x2="566.51" y2="262.5" stroke="#5a5a5a" stroke-width="1.0"/>
<line x1="579.34" y1="5" x2="579.34" y2="9.6" stroke="#5a5a5a" stroke-width="1.0"/>
<line x1="579.34" y1="271.5" x2="579.34" y2="266.9" stroke="#5a5a5a" stroke-width="1.0"/>
<line x1="592.18" y1="5" x2="592.18" y2="9.6" stroke="#5a5a5a" stroke-width="1.0"/>
<line x1="592.18" y1="271.5" x2="592.18" y2="266.9" stroke="#5a5a5a" stroke-width="1.0"/>
<line x1="374" y1="270.83" x2="378.4" y2="270.83" stroke="#5a5a5a" stroke-width="1.0"/>
<line x1="598.6" y1="270.83" x2="594.2" y2="270.83" stroke="#5a5a5a" stroke-width="1.0"/>
<line x1="374" y1="250.41" x2="378.4" y2="250.41" stroke="#5a5a5a" stroke-width="1.0"/>
<line x1="598.6" y1="250.41" x2="594.2" y2="250.41" stroke="#5a5a5a" stroke-width="1.0"/>
<line x1="374" y1="240.2" x2="378.4" y2="240.2" stroke="#5a5a5a" stroke-width="1.0"/>
<line x1="598.6" y1="240.2" x2="594.2" y2="240.2" stroke="#5a5a5a" stroke-width="1.0"/>
<line x1="374" y1="230" x2="378.4" y2="230" stroke="#5a5a5a" stroke-width="1.0"/>
<line x1="598.6" y1="230" x2="594.2" y2="230" stroke="#5a5a5a" stroke-width="1.0"/>
<line x1="374" y1="219.79" x2="378.4" y2="219.79" stroke="#5a5a5a" stroke-width="1.0"/>
<line x1="598.6" y1="219.79" x2="594.2" y2="219.79" stroke="#5a5a5a" stroke-width="1.0"/>
<line x1="374" y1="199.37" x2="378.4" y2="199.37" stroke="#5a5a5a" stroke-width="1.0"/>
<line x1="598.6" y1="199.37" x2="594.2" y2="199.37" stroke="#5a5a5a" stroke-width="1.0"/>
<line x1="374" y1="189.16" x2="378.4" y2="189.16" stroke="#5a5a5a" stroke-width="1.0"/>
<line x1="598.6" y1="189.16" x2="594.2" y2="189.16" stroke="#5a5a5a" stroke-width="1.0"/>
<line x1="374" y1="178.96" x2="378.4" y2="178.96" stroke="#5a5a5a" stroke-width="1.0"/>
<line x1="598.6" y1="178.96" x2="594.2" y2="178.96" stroke="#5a5a5a" stroke-width="1.0"/>
<line x1="374" y1="168.75" x2="378.4" y2="168.75" stroke="#5a5a5a" stroke-width="1.0"/>
<line x1="598.6" y1="168.75" x2="594.2" y2="168.75" stroke="#5a5a5a" stroke-width="1.0"/>
<line x1="374" y1="148.33" x2="378.4" y2="148.33" stroke="#5a5a5a" stroke-width="1.0"/>
<line x1="598.6" y1="148.33" x2="594.2" y2="148.33" stroke="#5a5a5a" stroke-width="1.0"/>
<line x1="374" y1="138.12" x2="378.4" y2="138.12" stroke="#5a5a5a" stroke-width="1.0"/>
<line x1="598.6" y1="138.12" x2="594.2" y2="138.12" stroke="#5a5a5a" stroke-width="1.0"/>
<line x1="374" y1="127.92" x2="378.4" y2="127.92" stroke="#5a5a5a" stroke-width="1.0"/>
<line x1="598.6" y1="127.92" x2="594.2" y2="127.92" stroke="#5a5a5a" stroke-width="1.0"/>
<line x1="374" y1="117.71" x2="378.4" y2="117.71" stroke="#5a5a5a" stroke-width="1.0"/>
<line x1="598.6" y1="117.71" x2="594.2" y2="117.71" stroke="#5a5a5a" stroke-width="1.0"/>
<line x1="374" y1="97.29" x2="378.4" y2="97.29" stroke="#5a5a5a" stroke-width="1.0"/>
<line x1="598.6" y1="97.29" x2="594.2" y2="97.29" stroke="#5a5a5a" stroke-width="1.0"/>
<line x1="374" y1="87.08" x2="378.4" y2="87.08" stroke="#5a5a5a" stroke-width="1.0"/>
<line x1="598.6" y1="87.08" x2="594.2" y2="87.08" stroke="#5a5a5a" stroke-width="1.0"/>
<line x1="374" y1="76.88" x2="378.4" y2="76.88" stroke="#5a5a5a" stroke-width="1.0"/>
<line x1="598.6" y1="76.88" x2="594.2" y2="76.88" stroke="#5a5a5a" stroke-width="1.0"/>
<line x1="374" y1="66.67" x2="378.4" y2="66.67" stroke="#5a5a5a" stroke-width="1.0"/>
<line x1="598.6" y1="66.67" x2="594.2" y2="66.67" stroke="#5a5a5a" stroke-width="1.0"/>
<line x1="374" y1="46.25" x2="378.4" y2="46.25" stroke="#5a5a5a" stroke-width="1.0"/>
<line x1="598.6" y1="46.25" x2="594.2" y2="46.25" stroke="#5a5a5a" stroke-width="1.0"/>
<line x1="374" y1="36.04" x2="378.4" y2="36.04" stroke="#5a5a5a" stroke-width="1.0"/>
<line x1="598.6" y1="36.04" x2="594.2" y2="36.04" stroke="#5a5a5a" stroke-width="1.0"/>
<line x1="374" y1="25.84" x2="378.4" y2="25.84" stroke="#5a5a5a" stroke-width="1.0"/>
<line x1="598.6" y1="25.84" x2="594.2" y2="25.84" stroke="#5a5a5a" stroke-width="1.0"/>
<line x1="374" y1="15.63" x2="378.4" y2="15.63" stroke="#5a5a5a" stroke-width="1.0"/>
<line x1="598.6" y1="15.63" x2="594.2" y2="15.63" stroke="#5a5a5a" stroke-width="1.0"/>
<line x1="374" y1="260.62" x2="382.8" y2="260.62" stroke="#5a5a5a" stroke-width="1.0"/>
<line x1="598.6" y1="260.62" x2="589.8" y2="260.62" stroke="#5a5a5a" stroke-width="1.0"/>
<line x1="374" y1="209.58" x2="382.8" y2="209.58" stroke="#5a5a5a" stroke-width="1.0"/>
<line x1="598.6" y1="209.58" x2="589.8" y2="209.58" stroke="#5a5a5a" stroke-width="1.0"/>
<line x1="374" y1="158.54" x2="382.8" y2="158.54" stroke="#5a5a5a" stroke-width="1.0"/>
<line x1="598.6" y1="158.54" x2="589.8" y2="158.54" stroke="#5a5a5a" stroke-width="1.0"/>
<line x1="374" y1="107.5" x2="382.8" y2="107.5" stroke="#5a5a5a" stroke-width="1.0"/>
<line x1="598.6" y1="107.5" x2="589.8" y2="107.5" stroke="#5a5a5a" stroke-width="1.0"/>
<line x1="374" y1="56.46" x2="382.8" y2="56.46" stroke="#5a5a5a" stroke-width="1.0"/>
<line x1="598.6" y1="56.46" x2="589.8" y2="56.46" stroke="#5a5a5a" stroke-width="1.0"/>
<line x1="386.83" y1="271.5" x2="386.83" y2="276.1" stroke="#5a5a5a" stroke-width="1.0"/>
<line x1="386.83" y1="537.4" x2="386.83" y2="532.8" stroke="#5a5a5a" stroke-width="1.0"/>
<line x1="399.67" y1="271.5" x2="399.67" y2="276.1" stroke="#5a5a5a" stroke-width="1.0"/>
<line x1="399.67" y1="537.4" x2="399.67" y2="532.8" stroke="#5a5a5a" stroke-width="1.0"/>
<line x1="412.5" y1="271.5" x2="412.5" y2="276.1" stroke="#5a5a5a" stroke-width="1.0"/>
<line x1="412.5" y1="537.4" x2="412.5" y2="532.8" stroke="#5a5a5a" stroke-width="1.0"/>
<line x1="425.34" y1="271.5" x2="425.34" y2="276.1" stroke="#5a5a5a" stroke-width="1.0"/>
<line x1="425.34" y1="537.4" x2="425.34" y2="532.8" stroke="#5a5a5a" stroke-width="1.0"/>
<line x1="438.17" y1="271.5" x2="438.17" y2="280.5" stroke="#5a5a5a" stroke-width="1.0"/>
<line x1="438.17" y1="537.4" x2="438.17" y2="528.4" stroke="#5a5a5a" stroke-width="1.0"/>
<line x1="451" y1="271.5" x2="451" y2="276.1" stroke="#5a5a5a" stroke-width="1.0"/>
<line x1="451" y1="537.4" x2="451" y2="532.8" stroke="#5a5a5a" stroke-width="1.0"/>
<line x1="463.84" y1="271.5" x2="463.84" y2="276.1" stroke="#5a5a5a" stroke-width="1.0"/>
<line x1="463.84" y1="537.4" x2="463.84" y2="532.8" stroke="#5a5a5a" stroke-width="1.0"/>
<line x1="476.67" y1="271.5" x2="476.67" y2="276.1" stroke="#5a5a5a" stroke-width="1.0"/>
<line x1="476.67" y1="537.4" x2="476.67" y2="532.8" stroke="#5a5a5a" stroke-width="1.0"/>
<line x1="489.51" y1="271.5" x2="489.51" y2="276.1" stroke="#5a5a5a" stroke-width="1.0"/>
<line x1="489.51" y1="537.4" x2="489.51" y2="532.8" stroke="#5a5a5a" stroke-width="1.0"/>
<line x1="502.34" y1="271.5" x2="502.34" y2="280.5" stroke="#5a5a5a" stroke-width="1.0"/>
<line x1="502.34" y1="537.4" x2="502.34" y2="528.4" stroke="#5a5a5a" stroke-width="1.0"/>
<line x1="515.17" y1="271.5" x2="515.17" y2="276.1" stroke="#5a5a5a" stroke-width="1.0"/>
<line x1="515.17" y1="537.4" x2="515.17" y2="532.8" stroke="#5a5a5a" stroke-width="1.0"/>
<line x1="528.01" y1="271.5" x2="528.01" y2="276.1" stroke="#5a5a5a" stroke-width="1.0"/>
<line x1="528.01" y1="537.4" x2="528.01" y2="532.8" stroke="#5a5a5a" stroke-width="1.0"/>
<line x1="540.84" y1="271.5" x2="540.84" y2="276.1" stroke="#5a5a5a" stroke-width="1.0"/>
<line x1="540.84" y1="537.4" x2="540.84" y2="532.8" stroke="#5a5a5a" stroke-width="1.0"/>
<line x1="553.68" y1="271.5" x2="553.68" y2="276.1" stroke="#5a5a5a" stroke-width="1.0"/>
<line x1="553.68" y1="537.4" x2="553.68" y2="532.8" stroke="#5a5a5a" stroke-width="1.0"/>
<line x1="566.51" y1="271.5" x2="566.51" y2="280.5" stroke="#5a5a5a" stroke-width="1.0"/>
<line x1="566.51" y1="537.4" x2="566.51" y2="528.4" stroke="#5a5a5a" stroke-width="1.0"/>
<line x1="579.34" y1="271.5" x2="579.34" y2="276.1" stroke="#5a5a5a" stroke-width="1.0"/>
<line x1="579.34" y1="537.4" x2="579.34" y2="532.8" stroke="#5a5a5a" stroke-width="1.0"/>
<line x1="592.18" y1="271.5" x2="592.18" y2="276.1" stroke="#5a5a5a" stroke-width="1.0"/>
<line x1="592.18" y1="537.4" x2="592.18" y2="532.8" stroke="#5a5a5a" stroke-width="1.0"/>
<line x1="374" y1="513.11" x2="378.4" y2="513.11" stroke="#5a5a5a" stroke-width="1.0"/>
<line x1="598.6" y1="513.11" x2="594.2" y2="513.11" stroke="#5a5a5a" stroke-width="1.0"/>
<line x1="374" y1="500.92" x2="378.4" y2="500.92" stroke="#5a5a5a" stroke-width="1.0"/>
<line x1="598.6" y1="500.92" x2="594.2" y2="500.92" stroke="#5a5a5a" stroke-width="1.0"/>
<line x1="374" y1="488.73" x2="378.4" y2="488.73" stroke="#5a5a5a" stroke-width="1.0"/>
<line x1="598.6" y1="488.73" x2="594.2" y2="488.73" stroke="#5a5a5a" stroke-width="1.0"/>
<line x1="374" y1="476.54" x2="378.4" y2="476.54" stroke="#5a5a5a" stroke-width="1.0"/>
<line x1="598.6" y1="476.54" x2="594.2" y2="476.54" stroke="#5a5a5a" stroke-width="1.0"/>
<line x1="374" y1="452.17" x2="378.4" y2="452.17" stroke="#5a5a5a" stroke-width="1.0"/>
<line x1="598.6" y1="452.17" x2="594.2" y2="452.17" stroke="#5a5a5a" stroke-width="1.0"/>
<line x1="374" y1="439.98" x2="378.4" y2="439.98" stroke="#5a5a5a" stroke-width="1.0"/>
<line x1="598.6" y1="439.98" x2="594.2" y2="439.98" stroke="#5a5a5a" stroke-width="1.0"/>
<line x1="374" y1="427.79" x2="378.4" y2="427.79" stroke="#5a5a5a" stroke-width="1.0"/>
<line x1="598.6" y1="427.79" x2="594.2" y2="427.79" stroke="#5a5a5a" stroke-width="1.0"/>
<line x1="374" y1="415.6" x2="378.4" y2="415.6" stroke="#5a5a5a" stroke-width="1.0"/>
<line x1="598.6" y1="415.6" x2="594.2" y2="415.6" stroke="#5a5a5a" stroke-width="1.0"/>
<line x1="374" y1="391.22" x2="378.4" y2="391.22" stroke="#5a5a5a" stroke-width="1.0"/>
<line x1="598.6" y1="391.22" x2="594.2" y2="391.22" stroke="#5a5a5a" stroke-width="1.0"/>
<line x1="374" y1="379.03" x2="378.4" y2="379.03" stroke="#5a5a5a" stroke-width="1.0"/>
<line x1="598.6" y1="379.03" x2="594.2" y2="379.03" stroke="#5a5a5a" stroke-width="1.0"/>
<line x1="374" y1="366.84" x2="378.4" y2="366.84" stroke="#5a5a5a" stroke-width="1.0"/>
<line x1="598.6" y1="366.84" x2="594.2" y2="366.84" stroke="#5a5a5a" stroke-width="1.0"/>
<line x1="374" y1="354.65" x2="378.4" y2="354.65" stroke="#5a5a5a" stroke-width="1.0"/>
<line x1="598.6" y1="354.65" x2="594.2" y2="354.65" stroke="#5a5a5a" stroke-width="1.0"/>
<line x1="374" y1="330.28" x2="378.4" y2="330.28" stroke="#5a5a5a" stroke-width="1.0"/>
<line x1="598.6" y1="330.28" x2="594.2" y2="330.28" stroke="#5a5a5a" stroke-width="1.0"/>
<line x1="374" y1="318.09" x2="378.4" y2="318.09" stroke="#5a5a5a" stroke-width="1.0"/>
<line x1="598.6" y1="318.09" x2="594.2" y2="318.09" stroke="#5a5a5a" stroke-width="1.0"/>
<line x1="374" y1="305.9" x2="378.4" y2="305.9" stroke="#5a5a5a" stroke-width="1.0"/>
<line x1="598.6" y1="305.9" x2="594.2" y2="305.9" stroke="#5a5a5a" stroke-width="1.0"/>
<line x1="374" y1="293.71" x2="378.4" y2="293.71" stroke="#5a5a5a" stroke-width="1.0"/>
<line x1="598.6" y1="293.71" x2="594.2" y2="293.71" stroke="#5a5a5a" stroke-width="1.0"/>
<line x1="374" y1="525.3" x2="382.8" y2="525.3" stroke="#5a5a5a" stroke-width="1.0"/>
<line x1="598.6" y1="525.3" x2="589.8" y2="525.3" stroke="#5a5a5a" stroke-width="1.0"/>
<line x1="374" y1="464.35" x2="382.8" y2="464.35" stroke="#5a5a5a" stroke-width="1.0"/>
<line x1="598.6" y1="464.35" x2="589.8" y2="464.35" stroke="#5a5a5a" stroke-width="1.0"/>
<line x1="374" y1="403.41" x2="382.8" y2="403.41" stroke="#5a5a5a" stroke-width="1.0"/>
<line x1="598.6" y1="403.41" x2="589.8" y2="403.41" stroke="#5a5a5a" stroke-width="1.0"/>
<line x1="374" y1="342.46" x2="382.8" y2="342.46" stroke="#5a5a5a" stroke-width="1.0"/>
<line x1="598.6" y1="342.46" x2="589.8" y2="342.46" stroke="#5a5a5a" stroke-width="1.0"/>
<line x1="374" y1="281.52" x2="382.8" y2="281.52" stroke="#5a5a5a" stroke-width="1.0"/>
<line x1="598.6" y1="281.52" x2="589.8" y2="281.52" stroke="#5a5a5a" stroke-width="1.0"/>
<rect x="66" y="5" width="224.6" height="266.5" fill="none" stroke="#333" stroke-width="1.0"/>
<rect x="66" y="271.5" width="224.6" height="265.9" fill="none" stroke="#333" stroke-width="1.0"/>
<rect x="374" y="5" width="224.6" height="266.5" fill="none" stroke="#333" stroke-width="1.0"/>
<rect x="374" y="271.5" width="224.6" height="265.9" fill="none" stroke="#333" stroke-width="1.0"/>
<text transform="translate(37.24,53.58) scale(1.200,1)" font-size="14.3" fill="#2e2e2e">0.3</text>
<text transform="translate(37.41,125.38) scale(1.200,1)" font-size="14.3" fill="#2e2e2e">0.2</text>
<text transform="translate(50.11,269.08) scale(1.200,1)" font-size="14.3" fill="#2e2e2e">0</text>
<text transform="translate(37.46,197.18) scale(1.119,1)" font-size="14.3" fill="#2e2e2e">0.1</text>
<text transform="translate(336.16,10.18) scale(1.200,1)" font-size="14.3" fill="#2e2e2e">0.25</text>
<text transform="translate(344.91,61.28) scale(1.200,1)" font-size="14.3" fill="#2e2e2e">0.2</text>
<text transform="translate(336.16,112.38) scale(1.200,1)" font-size="14.3" fill="#2e2e2e">0.15</text>
<text transform="translate(336.16,214.78) scale(1.200,1)" font-size="14.3" fill="#2e2e2e">0.05</text>
<text transform="translate(357.61,265.88) scale(1.200,1)" font-size="14.3" fill="#2e2e2e">0</text>
<text transform="translate(345.06,163.68) scale(1.125,1)" font-size="14.3" fill="#2e2e2e">0.1</text>
<text transform="translate(49.91,530.68) scale(1.200,1)" font-size="14.3" fill="#2e2e2e">0</text>
<text transform="translate(24.17,461.18) scale(1.200,1)" font-size="14.3" fill="#2e2e2e">5000</text>
<text transform="translate(36.53,391.64) scale(1.141,1)" font-size="14.3" fill="#2e2e2e">10</text>
<text class="w" transform="translate(53.74,386.86) scale(0.937,1)" font-size="8.4" fill="#2e2e2e">4</text>
<text transform="translate(6.32,322.04) scale(1.149,1)" font-size="14.3" fill="#2e2e2e">1.5×10</text>
<text class="w" transform="translate(53.84,317.56) scale(0.937,1)" font-size="8.4" fill="#2e2e2e">4</text>
<text transform="translate(357.71,530.48) scale(1.200,1)" font-size="14.3" fill="#2e2e2e">0</text>
<text transform="translate(331.97,469.58) scale(1.200,1)" font-size="14.3" fill="#2e2e2e">5000</text>
<text transform="translate(345.09,409.24) scale(1.093,1)" font-size="14.3" fill="#2e2e2e">10</text>
<text class="w" transform="translate(361.43,404.86) scale(0.988,1)" font-size="8.4" fill="#2e2e2e">4</text>
<text transform="translate(314.51,347.84) scale(1.157,1)" font-size="14.3" fill="#2e2e2e">1.5×10</text>
<text class="w" transform="translate(361.64,342.96) scale(0.937,1)" font-size="8.4" fill="#2e2e2e">4</text>
<text transform="translate(326.16,286.94) scale(1.114,1)" font-size="14.3" fill="#2e2e2e">2×10</text>
<text class="w" transform="translate(361.75,282.66) scale(0.912,1)" font-size="8.4" fill="#2e2e2e">4</text>
<text transform="translate(57.46,554.74) scale(1.177,1)" font-size="14.3" fill="#2e2e2e">−3</text>
<text transform="translate(120.79,554.74) scale(1.275,1)" font-size="14.3" fill="#2e2e2e">−2</text>
<text transform="translate(185.16,554.74) scale(1.180,1)" font-size="14.3" fill="#2e2e2e">−1</text>
<text transform="translate(254.31,554.74) scale(1.199,1)" font-size="14.3" fill="#2e2e2e">0</text>
<text transform="translate(157.37,572.62) scale(0.985,1)" font-size="14.5" fill="#2e2e2e">F</text>
<text transform="translate(165.49,573.02) scale(1.230,1)" font-size="14.5" fill="#2e2e2e">e</text>
<text transform="translate(183.34,572.82) scale(0.834,1)" font-size="14.5" fill="#2e2e2e">H</text>
<line x1="174.5" y1="576.6" x2="181.9" y2="562.3" stroke="#3a3a3a" stroke-width="1.0"/>
<path d="M155.5,562.1 H152.85 V575.2 H155.5" fill="none" stroke="#3a3a3a" stroke-width="1.1"/>
<path d="M194.2,562.1 H196.85 V575.2 H194.2" fill="none" stroke="#3a3a3a" stroke-width="1.1"/>
<text transform="translate(365.66,554.74) scale(1.177,1)" font-size="14.3" fill="#2e2e2e">−3</text>
<text transform="translate(428.99,554.74) scale(1.275,1)" font-size="14.3" fill="#2e2e2e">−2</text>
<text transform="translate(493.36,554.74) scale(1.180,1)" font-size="14.3" fill="#2e2e2e">−1</text>
<text transform="translate(562.51,554.74) scale(1.199,1)" font-size="14.3" fill="#2e2e2e">0</text>
<text transform="translate(465.57,572.62) scale(0.985,1)" font-size="14.5" fill="#2e2e2e">F</text>
<text transform="translate(473.69,573.02) scale(1.230,1)" font-size="14.5" fill="#2e2e2e">e</text>
<text transform="translate(491.54,572.82) scale(0.834,1)" font-size="14.5" fill="#2e2e2e">H</text>
<line x1="482.7" y1="576.6" x2="490.1" y2="562.3" stroke="#3a3a3a" stroke-width="1.0"/>
<path d="M463.7,562.1 H461.05 V575.2 H463.7" fill="none" stroke="#3a3a3a" stroke-width="1.1"/>
<path d="M502.4,562.1 H505.05 V575.2 H502.4" fill="none" stroke="#3a3a3a" stroke-width="1.1"/>
<text class="w" transform="translate(88.46,58.57) scale(0.904,1)" font-size="14.8" fill="#2e2e2e">G</text>
<text class="w" transform="translate(88.47,324.77) scale(0.894,1)" font-size="14.8" fill="#2e2e2e">G</text>
<text class="w" transform="translate(396.61,58.69) scale(0.896,1)" font-size="14.6" fill="#2e2e2e">K</text>
<text class="w" transform="translate(396.61,324.69) scale(0.896,1)" font-size="14.6" fill="#2e2e2e">K</text>
<rect x="88.45" y="81.75" width="1.5" height="1.5" fill="#111"/>
<rect x="93.05" y="81.75" width="1.5" height="1.5" fill="#111"/>
<rect x="97.55" y="81.75" width="1.5" height="1.5" fill="#111"/>
<line x1="88.3" y1="108.6" x2="99.3" y2="108.6" stroke="#050505" stroke-width="1.6"/>
<text class="w" transform="translate(102,84.93) scale(1.200,1)" font-size="11.1" fill="#2e2e2e" letter-spacing="0.10">Raw Spec</text>
<text class="w" transform="translate(102.9,111.23) scale(1.200,1)" font-size="11.1" fill="#2e2e2e" letter-spacing="0.17">Weighted Spec</text>
<text transform="translate(30.1,172.5) rotate(-90) scale(1.120,1)" font-size="15" fill="#2e2e2e" letter-spacing="0.67">Fraction</text>
<text transform="translate(329.4,172.1) rotate(-90) scale(1.120,1)" font-size="15" fill="#2e2e2e" letter-spacing="0.58">Fraction</text>
<text transform="translate(9.88,436.5) rotate(-90) scale(1.120,1)" font-size="14.9" fill="#2e2e2e" letter-spacing="0.52">Number</text>
<text transform="translate(329.58,444.1) rotate(-90) scale(1.120,1)" font-size="14.9" fill="#2e2e2e" letter-spacing="0.38">Number</text>
</svg>
</body></html>
